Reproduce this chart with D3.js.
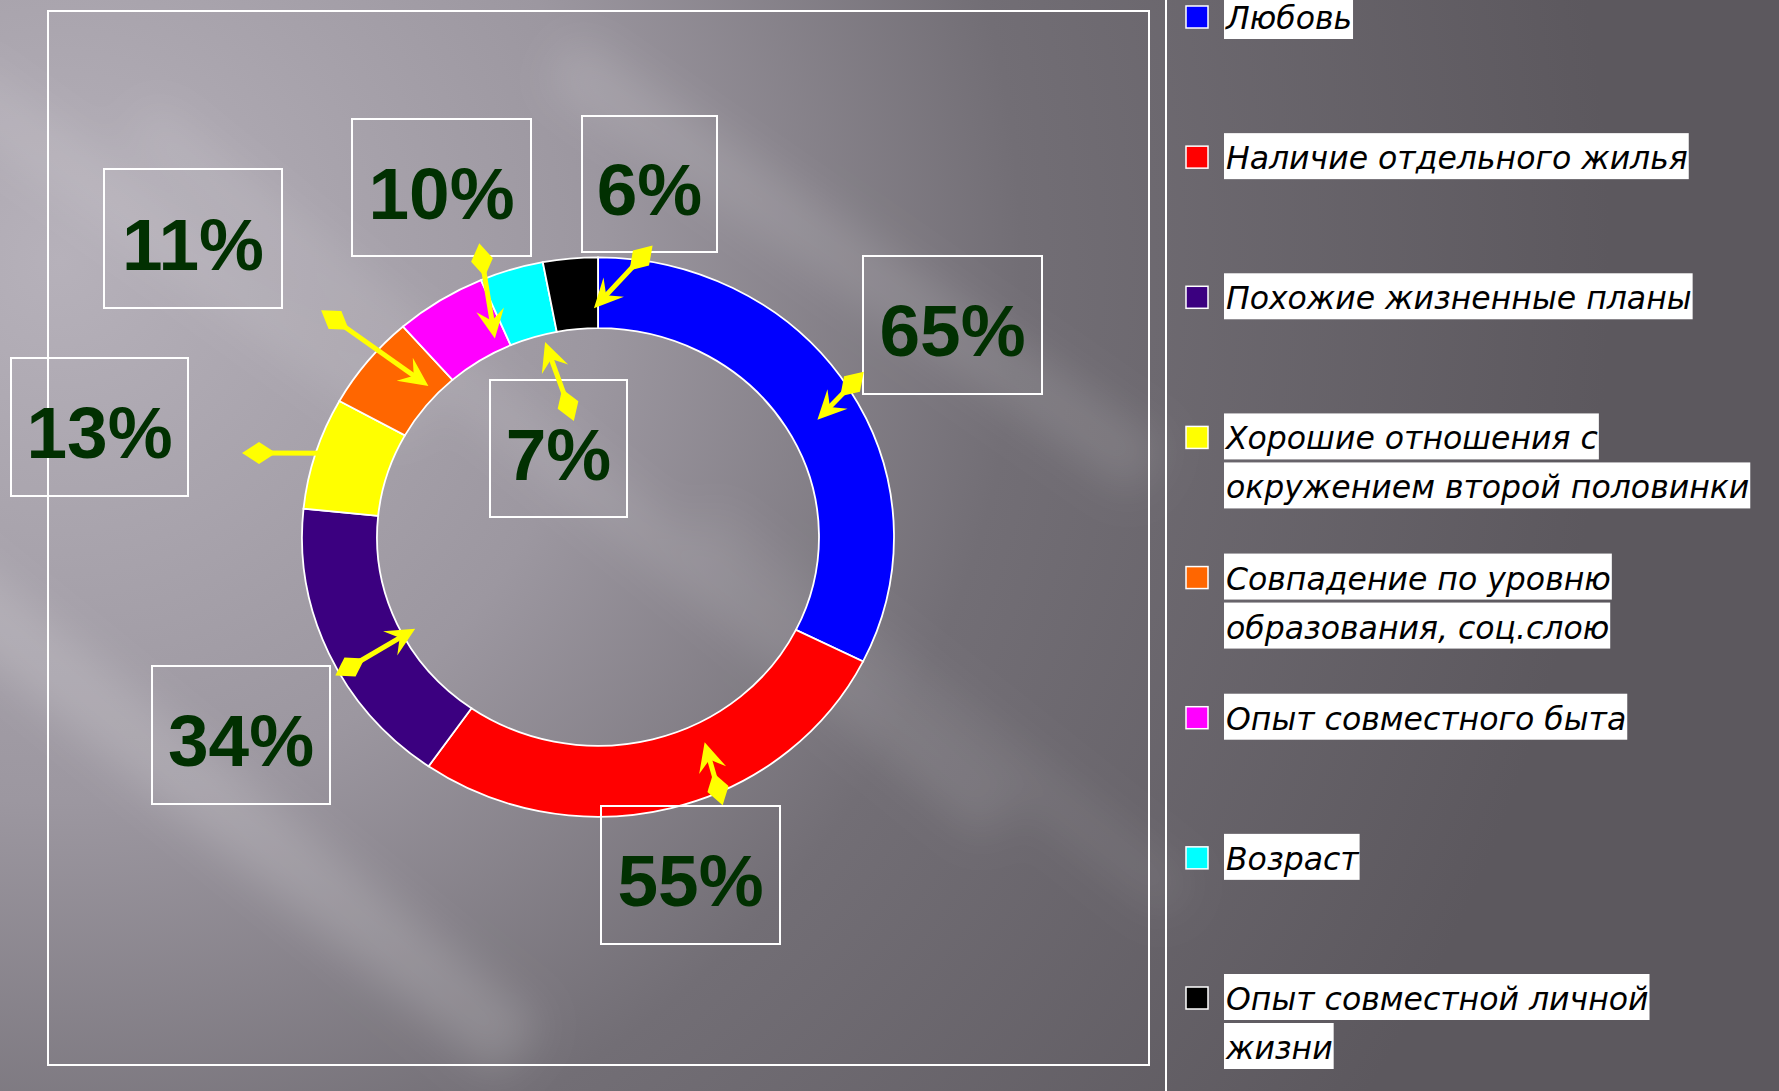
<!DOCTYPE html>
<html lang="ru">
<head>
<meta charset="UTF-8">
<title>Кольцевая диаграмма</title>
<script src="https://cdn.jsdelivr.net/npm/d3@7"></script>
<style>
    html, body { margin: 0; padding: 0; overflow: hidden; background: #666268; }
    .frame { fill: none; stroke: #fff; stroke-width: 2; }
    .slice { stroke: #fff; stroke-width: 1.8; vector-effect: non-scaling-stroke; }
    .lbl-box { fill: none; stroke: #fff; stroke-width: 2; }
    .lbl-text {
        font-family: "Liberation Sans", Arial, sans-serif;
        font-weight: bold;
        font-size: 73px;
        fill: #013001;
        text-anchor: middle;
    }
    .leader { stroke: #ffff00; stroke-width: 5; fill: none; }
    .leader-head { fill: #ffff00; }
    .leg-bg { fill: #fff; }
    .leg-text {
        font-family: "DejaVu Sans", sans-serif;
        font-style: italic;
        font-size: 31.5px;
        fill: #000;
    }
</style>
</head>
<body>
<svg id="chart" width="1779" height="1091"></svg>
<script>
    // данные
    const categories = [
        "Любовь",
        "Наличие отдельного жилья",
        "Похожие жизненные планы",
        "Хорошие отношения с\nокружением второй половинки",
        "Совпадение по уровню\nобразования, соц.слою",
        "Опыт совместного быта",
        "Возраст",
        "Опыт совместной личной\nжизни"
    ];
    const values = [65, 55, 34, 13, 11, 10, 7, 6];
    const labels = ["65%", "55%", "34%", "13%", "11%", "10%", "7%", "6%"];
    const colors = ["#0000ff", "#ff0000", "#3b0080", "#ffff00", "#ff6600", "#ff00ff", "#00ffff", "#000000"];

    // расположение подписей: рамка [x, y, w, h], ромб [x, y], остриё (доля сектора, радиус)
    const labelBoxes = [
        [863, 256, 179, 138], [601, 806, 179, 138], [152, 666, 178, 138], [11, 358, 177, 138],
        [104, 169, 178, 139], [352, 119, 179, 137], [490, 380, 137, 137], [582, 116, 135, 136]
    ];
    const diamonds = [[852, 384], [718, 789], [350, 667], [259, 453], [335, 320], [482, 260], [568, 405], [641, 258]];
    const tipT = [0.52, 0.38, 0.445, 0.60, 0.72, 0.84, 0.71, 0.91];
    const tipR = [252, 242, 207, 262, 233, 234, 213, 242];

    const W = 1779, H = 1091;
    const cx = 598, cy = 537, squash = 0.945;
    const rOuter = 296, rInner = 221;

    const svg = d3.select("#chart");
    const defs = svg.append("defs");

    // фон
    const grad = defs.append("radialGradient")
        .attr("id", "bgGrad")
        .attr("gradientUnits", "userSpaceOnUse")
        .attr("cx", 60).attr("cy", 260).attr("r", 1550);
    grad.append("stop").attr("offset", 0).attr("stop-color", "#b6b1ba");
    grad.append("stop").attr("offset", 0.35).attr("stop-color", "#9c97a0");
    grad.append("stop").attr("offset", 0.62).attr("stop-color", "#726e75");
    grad.append("stop").attr("offset", 1).attr("stop-color", "#5c585e");

    defs.append("filter").attr("id", "soft")
        .attr("x", "-20%").attr("y", "-20%").attr("width", "140%").attr("height", "140%")
        .append("feGaussianBlur").attr("stdDeviation", 22);

    svg.append("rect").attr("width", W).attr("height", H).attr("fill", "url(#bgGrad)");

    const streaks = svg.append("g").attr("filter", "url(#soft)");
    [
        [[-80, 560], [520, 1050], 70, 0.16],
        [[140, 120], [1000, 820], 50, 0.10],
        [[560, 60], [1150, 470], 60, 0.12],
        [[-50, 80], [420, 420], 60, 0.10],
        [[700, 520], [1180, 900], 50, 0.07]
    ].forEach(s => {
        streaks.append("line")
            .attr("x1", s[0][0]).attr("y1", s[0][1])
            .attr("x2", s[1][0]).attr("y2", s[1][1])
            .attr("stroke", "#fff")
            .attr("stroke-width", s[2])
            .attr("stroke-opacity", s[3]);
    });

    // рамки
    svg.append("rect").attr("class", "frame")
        .attr("x", 48).attr("y", 11).attr("width", 1101).attr("height", 1054);
    svg.append("line").attr("class", "frame")
        .attr("x1", 1166).attr("y1", 0).attr("x2", 1166).attr("y2", H);

    // кольцо
    const color = d3.scaleOrdinal(categories, colors);
    const pie = d3.pie().sort(null).value(d => d.value);
    const arcs = pie(categories.map((c, i) => ({ cat: c, value: values[i], i: i })));
    const arc = d3.arc().innerRadius(rInner).outerRadius(rOuter);

    const ring = svg.append("g")
        .attr("transform", `translate(${cx},${cy}) scale(1,${squash})`);
    ring.selectAll("path")
        .data(arcs)
        .join("path")
        .attr("class", "slice")
        .attr("fill", d => color(d.data.cat))
        .attr("d", arc);

    // подписи в рамках
    const lbl = svg.append("g").selectAll("g")
        .data(arcs)
        .join("g");
    lbl.append("rect").attr("class", "lbl-box")
        .attr("x", d => labelBoxes[d.index][0])
        .attr("y", d => labelBoxes[d.index][1])
        .attr("width", d => labelBoxes[d.index][2])
        .attr("height", d => labelBoxes[d.index][3]);
    lbl.append("text").attr("class", "lbl-text")
        .attr("x", d => labelBoxes[d.index][0] + labelBoxes[d.index][2] / 2)
        .attr("y", d => labelBoxes[d.index][1] + labelBoxes[d.index][3] / 2 + 31)
        .text(d => labels[d.index]);

    // жёлтые выноски
    function tipPoint(d) {
        const a = d.startAngle + tipT[d.index] * (d.endAngle - d.startAngle);
        const r = tipR[d.index];
        return [cx + r * Math.sin(a), cy - r * Math.cos(a) * squash];
    }
    const leaders = svg.append("g");
    arcs.forEach(d => {
        const [dx, dy] = diamonds[d.index];
        const [tx, ty] = tipPoint(d);
        const len = Math.hypot(tx - dx, ty - dy);
        const ux = (tx - dx) / len, uy = (ty - dy) / len;
        const nx = -uy, ny = ux;
        // ромб
        leaders.append("path").attr("class", "leader-head")
            .attr("d", d3.line()([
                [dx - ux * 17, dy - uy * 17],
                [dx + nx * 11, dy + ny * 11],
                [dx + ux * 17, dy + uy * 17],
                [dx - nx * 11, dy - ny * 11]
            ]) + "Z");
        // линия
        leaders.append("line").attr("class", "leader")
            .attr("x1", dx).attr("y1", dy)
            .attr("x2", tx - ux * 16).attr("y2", ty - uy * 16);
        // наконечник
        leaders.append("path").attr("class", "leader-head")
            .attr("d", d3.line()([
                [tx, ty],
                [tx - ux * 29 + nx * 14, ty - uy * 29 + ny * 14],
                [tx - ux * 18, ty - uy * 18],
                [tx - ux * 29 - nx * 14, ty - uy * 29 - ny * 14]
            ]) + "Z");
    });

    // легенда
    const legY = d3.scaleLinear().domain([0, categories.length - 1]).range([17, 998]);
    const leg = svg.append("g").selectAll("g")
        .data(categories)
        .join("g")
        .attr("transform", (d, i) => `translate(0,${legY(i)})`);
    leg.append("rect")
        .attr("x", 1186).attr("y", -11)
        .attr("width", 22).attr("height", 22)
        .attr("fill", d => color(d))
        .attr("stroke", "#fff").attr("stroke-width", 1.5);
    leg.each(function (d) {
        const g = d3.select(this);
        d.split("\n").forEach((line, j) => {
            const bg = g.append("rect").attr("class", "leg-bg")
                .attr("x", 1224).attr("y", -24 + j * 49).attr("height", 46);
            const t = g.append("text").attr("class", "leg-text")
                .attr("x", 1226).attr("y", 12 + j * 49)
                .text(line);
            bg.attr("width", t.node().getComputedTextLength() + 3);
        });
    });
</script>
</body>
</html>
